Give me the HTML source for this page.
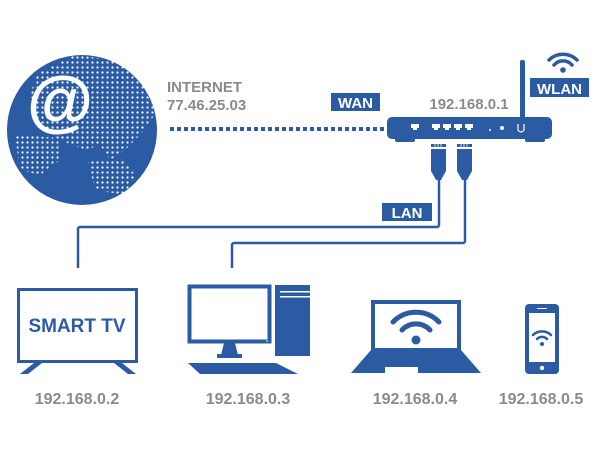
<!DOCTYPE html>
<html><head><meta charset="utf-8"><style>
html,body{margin:0;padding:0;background:#fff}
svg{display:block}
text{font-family:"Liberation Sans",Arial,sans-serif;font-weight:bold}
</style></head><body>
<svg width="600" height="450" viewBox="0 0 600 450" xmlns="http://www.w3.org/2000/svg">
<defs>
<pattern id="dots" width="5" height="5" patternUnits="userSpaceOnUse">
<circle cx="2.5" cy="2.5" r="1.1" fill="#fff"/>
</pattern>
<clipPath id="gc"><circle cx="82" cy="130" r="75"/></clipPath>
</defs>
<!-- globe -->
<circle cx="82" cy="130" r="75" fill="#2a5ba3"/>
<g clip-path="url(#gc)" fill="url(#dots)">
<path d="M75 55 L150 65 L158 110 L140 135 L125 150 L110 160 L100 145 L85 150 L60 140 L40 125 L30 100 L35 75 Z"/>
<path d="M15 135 L58 138 L60 160 L40 175 L20 170 Z"/>
<path d="M88 162 L122 158 L135 175 L125 195 L95 190 Z"/>
</g>
<text x="60" y="124" font-size="68" fill="#fff" text-anchor="middle">@</text>
<!-- internet text -->
<text x="167" y="92" font-size="15" fill="#8a8a8a">INTERNET</text>
<text x="167" y="110" font-size="15" fill="#8a8a8a">77.46.25.03</text>
<line x1="170" y1="129" x2="384" y2="129" stroke="#2a5ba3" stroke-width="4" stroke-dasharray="4 3"/>
<!-- WAN -->
<rect x="331" y="93" width="49" height="18" fill="#2a5ba3"/>
<text x="355.5" y="108" font-size="15" fill="#fff" text-anchor="middle">WAN</text>
<text x="469" y="109" font-size="15" fill="#8a8a8a" text-anchor="middle">192.168.0.1</text>
<!-- antenna -->
<rect x="520" y="60" width="5" height="62" rx="2" fill="#2a5ba3"/>
<!-- router -->
<rect x="387" y="117" width="165" height="22" rx="5" fill="#2a5ba3"/>
<rect x="395" y="137" width="20" height="5" rx="2" fill="#2a5ba3"/>
<rect x="525" y="137" width="20" height="5" rx="2" fill="#2a5ba3"/>
<g fill="#fff">
<path d="M411 124 h8 v4 h-2 v2 h-4 v-2 h-2 z"/>
<path d="M432 124 h8 v4 h-2 v2 h-4 v-2 h-2 z"/>
<path d="M443 124 h8 v4 h-2 v2 h-4 v-2 h-2 z"/>
<path d="M454 124 h8 v4 h-2 v2 h-4 v-2 h-2 z"/>
<path d="M465 124 h8 v4 h-2 v2 h-4 v-2 h-2 z"/>
<circle cx="490" cy="130" r="1"/>
<circle cx="502" cy="128" r="2"/>
</g>
<path d="M518 124 v5 a3 3 0 0 0 6 0 v-5" fill="none" stroke="#fff" stroke-width="1.2"/>
<!-- WLAN -->
<rect x="530" y="78" width="59" height="19" fill="#2a5ba3"/>
<text x="559.5" y="94" font-size="15" fill="#fff" text-anchor="middle">WLAN</text>
<g fill="none" stroke="#2a5ba3" stroke-width="3.5" stroke-linecap="round">
<path d="M549 60 a20 20 0 0 1 28 0"/>
<path d="M554 65 a12 12 0 0 1 18 0"/>
</g>
<circle cx="563" cy="70" r="2.8" fill="#2a5ba3"/>
<!-- plugs -->
<g fill="#2a5ba3">
<rect x="431" y="144" width="15" height="3"/>
<rect x="431" y="149" width="15" height="22"/>
<path d="M431 171 h15 l-5 9 h-5 z"/>
<rect x="457" y="144" width="15" height="3"/>
<rect x="457" y="149" width="15" height="22"/>
<path d="M457 171 h15 l-5 9 h-5 z"/>
</g>
<g stroke="#fff" stroke-width="0.8">
<line x1="435" y1="144" x2="435" y2="147"/><line x1="438" y1="144" x2="438" y2="147"/><line x1="441" y1="144" x2="441" y2="147"/>
<line x1="461" y1="144" x2="461" y2="147"/><line x1="464" y1="144" x2="464" y2="147"/><line x1="467" y1="144" x2="467" y2="147"/>
</g>
<!-- cables -->
<g fill="none" stroke="#2a5ba3" stroke-width="2.5">
<path d="M439 179 V225 a2 2 0 0 1 -2 2 H80 a2 2 0 0 0 -2 2 V268"/>
<path d="M465 179 V241 a2 2 0 0 1 -2 2 H234 a2 2 0 0 0 -2 2 V268"/>
</g>
<!-- LAN -->
<rect x="382" y="203" width="50" height="18" fill="#2a5ba3"/>
<text x="407" y="218" font-size="15" fill="#fff" text-anchor="middle">LAN</text>
<!-- TV -->
<rect x="18.5" y="289.5" width="118" height="72" fill="#fff" stroke="#2a5ba3" stroke-width="3"/>
<text x="77" y="332" font-size="19" fill="#2a5ba3" text-anchor="middle">SMART TV</text>
<path d="M34 363 h8 l-14 11 h-8 z M114 363 h8 l14 11 h-8 z" fill="#2a5ba3"/>
<!-- desktop -->
<rect x="189.5" y="286.5" width="80" height="55" fill="#fff" stroke="#2a5ba3" stroke-width="4"/>
<circle cx="267" cy="341" r="0.8" fill="#fff"/>
<path d="M224 343 h11 l3 12 h-17 z" fill="#2a5ba3"/>
<rect x="217" y="354" width="25" height="4" fill="#2a5ba3"/>
<path d="M188 363 h88 l22 11 h-98 z" fill="#2a5ba3"/>
<rect x="275" y="285" width="35" height="71" fill="#2a5ba3"/>
<rect x="280" y="291" width="30" height="1.5" fill="#fff"/>
<rect x="280" y="296" width="30" height="1.5" fill="#fff"/>
<!-- laptop -->
<rect x="373" y="302" width="86" height="48" fill="#fff" stroke="#2a5ba3" stroke-width="4"/>
<path d="M371 350 h90 l20 23 h-130 z" fill="#2a5ba3"/>
<rect x="385" y="367" width="33" height="6" fill="#fff"/>
<g fill="none" stroke="#2a5ba3" stroke-width="5" stroke-linecap="round">
<path d="M393 322 a32 32 0 0 1 46 0"/>
<path d="M402 330 a19 19 0 0 1 28 0"/>
</g>
<circle cx="416" cy="340" r="4.5" fill="#2a5ba3"/>
<!-- phone -->
<rect x="525" y="304" width="34" height="70" rx="4" fill="#2a5ba3"/>
<rect x="529" y="313" width="26" height="49" fill="#fff"/>
<circle cx="542" cy="368" r="2.2" fill="#fff"/>
<rect x="537" y="308" width="10" height="1" fill="#fff"/>
<g fill="none" stroke="#2a5ba3" stroke-width="2.5" stroke-linecap="round">
<path d="M533 335 a13 13 0 0 1 18 0"/>
<path d="M537 339 a7 7 0 0 1 10 0"/>
</g>
<circle cx="542" cy="344" r="2" fill="#2a5ba3"/>
<!-- labels -->
<g font-size="16" fill="#8a8a8a" text-anchor="middle">
<text x="77" y="404">192.168.0.2</text>
<text x="248" y="404">192.168.0.3</text>
<text x="415" y="404">192.168.0.4</text>
<text x="541" y="404">192.168.0.5</text>
</g>
</svg>
</body></html>
